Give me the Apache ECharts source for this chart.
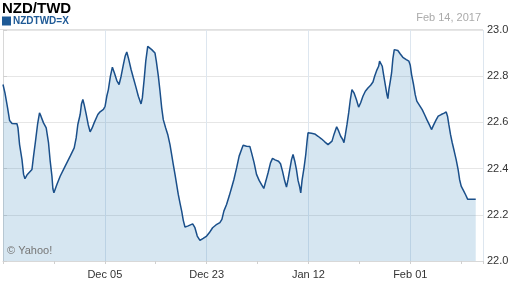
<!DOCTYPE html>
<html>
<head>
<meta charset="utf-8">
<script src="https://cdn.jsdelivr.net/npm/echarts@6/dist/echarts.min.js"></script>
<style>html,body{margin:0;padding:0;background:#fff}#c{width:512px;height:288px}</style>
</head>
<body>
<div id="c"></div>
<script>
// Business-day index since Nov 15, 2016 (x positions)
const xDays = [0,0.27,0.63,0.91,1.24,1.92,2.06,2.28,2.61,2.83,3.02,3.29,3.98,4.20,4.47,4.75,5.02,5.22,5.57,5.94,6.26,6.49,6.73,6.86,7.00,7.41,7.86,8.55,9.24,9.79,10.06,10.29,10.61,10.79,10.98,11.16,11.43,11.71,11.98,12.26,12.53,12.67,13.04,13.35,13.81,14.04,14.27,14.49,14.77,15.04,15.32,15.65,15.96,16.24,16.55,16.79,17.02,17.24,17.61,17.92,18.25,18.61,18.98,19.16,19.43,19.63,19.90,20.08,20.45,20.90,21.08,21.36,21.59,21.82,22.04,22.37,22.65,22.96,23.19,23.41,23.65,23.88,24.10,24.33,24.57,24.79,25.02,25.39,26.08,26.39,26.71,27.08,27.53,28.00,28.36,28.82,29.28,29.82,30.10,30.37,30.74,31.10,31.43,31.75,32.12,32.47,32.80,33.02,33.49,33.94,34.18,34.53,34.86,35.22,35.55,35.86,36.14,36.45,36.78,37.06,37.41,37.88,38.16,38.43,38.74,38.98,39.20,39.43,39.67,39.88,40.12,40.35,40.57,40.80,40.94,41.12,41.39,41.63,41.81,41.94,42.41,42.86,43.32,43.78,44.24,44.69,44.96,45.24,45.51,45.88,46.16,46.43,46.71,46.88,47.08,47.30,47.53,47.76,47.98,48.26,48.59,48.90,49.18,49.49,49.82,50.18,50.55,50.87,51.10,51.37,51.65,51.78,52.02,52.15,52.33,52.56,52.79,52.92,53.06,53.25,53.43,53.61,53.80,53.94,54.29,54.63,54.98,55.45,55.81,56.00,56.18,56.45,56.68,56.90,57.27,57.64,57.96,58.28,58.65,58.92,59.20,59.57,59.84,60.25,60.66,60.94,61.12,61.30,61.53,61.77,62.04,62.31,62.58,62.78,63.00,63.32,63.59,63.90,64.37,65.00];
const rates = [22.764,22.728,22.663,22.608,22.595,22.594,22.576,22.504,22.439,22.375,22.356,22.372,22.396,22.454,22.519,22.591,22.641,22.627,22.598,22.576,22.511,22.432,22.367,22.313,22.295,22.331,22.367,22.411,22.454,22.49,22.533,22.591,22.634,22.68,22.699,22.677,22.637,22.591,22.559,22.576,22.598,22.605,22.634,22.646,22.656,22.670,22.713,22.742,22.8,22.839,22.814,22.781,22.764,22.8,22.85,22.886,22.905,22.879,22.829,22.793,22.756,22.713,22.680,22.706,22.793,22.865,22.929,22.934,22.915,22.9,22.865,22.8,22.735,22.663,22.612,22.576,22.548,22.504,22.461,22.418,22.375,22.331,22.288,22.252,22.216,22.176,22.147,22.151,22.161,22.144,22.108,22.089,22.098,22.108,22.122,22.144,22.156,22.166,22.180,22.216,22.245,22.281,22.317,22.353,22.403,22.454,22.483,22.501,22.497,22.496,22.468,22.425,22.375,22.349,22.331,22.314,22.346,22.382,22.425,22.444,22.438,22.432,22.421,22.389,22.346,22.320,22.353,22.396,22.439,22.461,22.432,22.396,22.349,22.320,22.295,22.349,22.403,22.461,22.519,22.555,22.553,22.550,22.540,22.529,22.516,22.504,22.497,22.519,22.548,22.581,22.562,22.540,22.526,22.512,22.548,22.591,22.641,22.699,22.742,22.728,22.699,22.666,22.685,22.713,22.735,22.749,22.761,22.775,22.8,22.824,22.843,22.865,22.867,22.843,22.807,22.764,22.720,22.703,22.742,22.778,22.814,22.876,22.915,22.922,22.911,22.896,22.882,22.872,22.865,22.847,22.807,22.764,22.720,22.692,22.674,22.655,22.634,22.612,22.588,22.569,22.588,22.612,22.627,22.634,22.640,22.645,22.627,22.591,22.548,22.512,22.476,22.439,22.396,22.353,22.324,22.305,22.288,22.267,22.267,22.267];
const tickDays = [14, 28, 42, 56];
const tickLabels = ['Dec 05', 'Dec 23', 'Jan 12', 'Feb 01'];
const yTicks = [22.0, 22.2, 22.4, 22.6, 22.8, 23.0];
const seriesName = 'NZDTWD=X';
const titleText = 'NZD/TWD';
const dateText = 'Feb 14, 2017';

const chart = echarts.init(document.getElementById('c'), null, {renderer: 'canvas'});
const FONT = 'Liberation Sans, Arial, sans-serif';
const gridBox = {left: 2, right: 29, top: 30, bottom: 27};
chart.setOption({
  animation: false,
  backgroundColor: '#fff',
  title: {
    text: titleText, left: 2, top: 1, padding: 0,
    textStyle: {fontFamily: FONT, fontSize: 15, fontWeight: 'bold', color: '#000'}
  },
  legend: {
    left: 2, top: 16, padding: 0, itemWidth: 9, itemHeight: 9, itemGap: 2,
    data: [{name: seriesName, icon: 'rect'}],
    textStyle: {fontFamily: FONT, fontSize: 10, fontWeight: 'bold', color: '#1f5a96', padding: [0, 0, 0, -3]}
  },
  graphic: [
    {type: 'line', z: 0, shape: {x1: 0, y1: 29.5, x2: 483, y2: 29.5}, style: {stroke: '#e0e0e0', lineWidth: 1}},
    {type: 'text', right: 31, top: 12, style: {text: dateText, fill: '#aaaaaa', font: '11px ' + FONT}},
    {type: 'text', left: 7, top: 245, z: 10, style: {text: '© Yahoo!', fill: '#777', font: '11px ' + FONT}}
  ],
  grid: gridBox,
  xAxis: [
    {
      type: 'value', min: 0, max: 66, interval: 7,
      axisLine: {show: true, lineStyle: {color: '#d8d8d8'}},
      axisTick: {show: true, length: 3, lineStyle: {color: '#d0d0d0'}},
      axisLabel: {show: false},
      splitLine: {show: false}
    },
    {
      type: 'value', min: 0, max: 66, interval: 14, position: 'bottom',
      axisLine: {show: false},
      axisTick: {show: false},
      axisLabel: {
        show: true, margin: 8, showMaxLabel: false, fontFamily: FONT, fontSize: 11, color: '#333',
        formatter: v => { const i = tickDays.indexOf(v); return i >= 0 ? tickLabels[i] : ''; }
      },
      splitLine: {show: true, lineStyle: {color: '#dde6ef', width: 1}}
    }
  ],
  yAxis: {
    type: 'value', position: 'right', min: yTicks[0], max: yTicks[yTicks.length - 1], interval: 0.2,
    axisLine: {show: true, lineStyle: {color: '#d8d8d8'}},
    axisTick: {show: true, length: 4, lineStyle: {color: '#d0d0d0'}},
    axisLabel: {margin: 4, fontFamily: FONT, fontSize: 11, color: '#333', formatter: v => v.toFixed(1)},
    splitLine: {show: true, lineStyle: {color: '#e6e6e6'}}
  },
  series: [{
    name: seriesName, type: 'line', xAxisIndex: 0, showSymbol: false, symbol: 'none',
    data: xDays.map((d, i) => [d, rates[i]]),
    lineStyle: {color: '#1a4f8a', width: 1.5},
    itemStyle: {color: '#1f5a96'},
    areaStyle: {color: 'rgba(70,140,190,0.22)', opacity: 1, origin: 'start'}
  }]
});
</script>
</body>
</html>
